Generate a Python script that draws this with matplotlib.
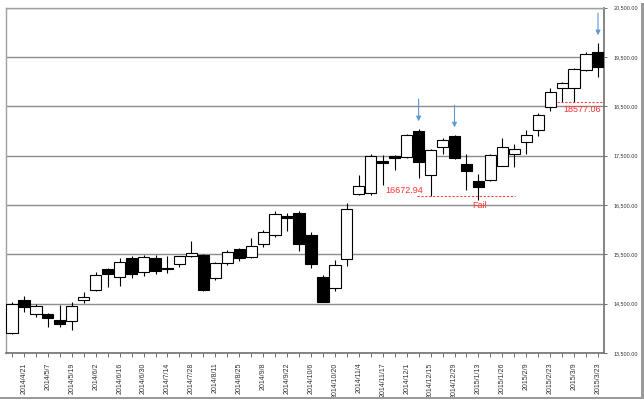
"""
weekly candle chart of the nikkei 225, 2014/4 - 2015/3, with a few notes on it.
"""
import matplotlib
matplotlib.use("Agg")
import matplotlib.pyplot as plt
from matplotlib.patches import Rectangle

plt.rcParams['font.family'] = ['Liberation Sans', 'DejaVu Sans']

# week labels (first trading day of the week)
weeks = ["2014/4/14", "2014/4/21", "2014/4/28", "2014/5/7", "2014/5/12", "2014/5/19",
         "2014/5/26", "2014/6/2", "2014/6/9", "2014/6/16", "2014/6/23", "2014/6/30",
         "2014/7/7", "2014/7/14", "2014/7/22", "2014/7/28", "2014/8/4", "2014/8/11",
         "2014/8/18", "2014/8/25", "2014/9/1", "2014/9/8", "2014/9/16", "2014/9/22",
         "2014/9/29", "2014/10/6", "2014/10/14", "2014/10/20", "2014/10/27", "2014/11/4",
         "2014/11/10", "2014/11/17", "2014/11/25", "2014/12/1", "2014/12/8", "2014/12/15",
         "2014/12/22", "2014/12/29", "2015/1/5", "2015/1/13", "2015/1/19", "2015/1/26",
         "2015/2/2", "2015/2/9", "2015/2/16", "2015/2/23", "2015/3/2", "2015/3/9",
         "2015/3/16", "2015/3/23"]

opens = [13900, 14570, 14300, 14283, 14175, 14150, 14570, 14770, 15207, 15040,
         15420, 15150, 15424, 15225, 15300, 15470, 15477, 15020, 15320, 15611,
         15444, 15713, 15895, 16280, 16334, 15885, 15040, 14816, 15404, 16725,
         16750, 17380, 17500, 17480, 18007, 17115, 17670, 17905, 17326, 16975,
         16995, 17292, 17535, 17784, 18021, 18492, 18864, 18864, 19235, 19605]
highs = [14530, 14650, 14490, 14310, 14465, 14525, 14740, 15150, 15220, 15424,
         15460, 15490, 15477, 15457, 15470, 15760, 15500, 15340, 15580, 15620,
         15830, 16000, 16367, 16334, 16374, 15960, 15090, 15376, 16537, 17110,
         17530, 17520, 17520, 17935, 18035, 17640, 17865, 17911, 17540, 17130,
         17530, 17852, 17737, 18010, 18360, 18864, 18990, 19281, 19590, 19778]
lows = [13880, 14340, 14230, 14030, 14030, 13965, 14515, 14760, 14840, 14860,
        15020, 15050, 15106, 15120, 15240, 15450, 14750, 14970, 15290, 15355,
        15424, 15650, 15860, 15980, 15560, 15220, 14529, 14750, 15270, 16700,
        16705, 16900, 17210, 17460, 17055, 16672.94, 17530, 17440, 16808, 16593,
        16990, 17280, 17278, 17535, 17900, 18405, 18577.06, 18580, 19210, 19087]
closes = [14500, 14430, 14460, 14200, 14096, 14460, 14632, 15077, 15100, 15349,
          15095, 15437, 15164, 15200, 15457, 15523, 14778, 15318, 15539, 15424,
          15668, 15948, 16321, 16229, 15708, 15300, 14532, 15291, 16414, 16880,
          17490, 17357, 17460, 17920, 17371, 17621, 17818, 17450, 17197, 16864,
          17511, 17674, 17636, 17913, 18332, 18797, 18971, 19254, 19560, 19285]

# candles that get a blue arrow on top
arrow_weeks = [34, 37, 49]


def candles(ax):
    """
    draw one candle per week, white when it closed up and black when it closed down.
    """
    for i in range(len(weeks)):
        o, h, l, c = opens[i], highs[i], lows[i], closes[i]
        # wick first so the body sits on top of it
        ax.vlines(i, l, h, color="black", lw=0.8, zorder=2)
        bottom = min(o, c)
        height = max(abs(c - o), 8)
        face = "white" if c >= o else "black"
        ax.add_patch(Rectangle((i - 0.47, bottom), 0.94, height, facecolor=face,
                               edgecolor="black", lw=0.8, zorder=3))


def notes(ax):
    """
    red dashed support lines, their numbers and the blue arrows.
    """
    ax.hlines(16672.94, 33.9, 42.1, colors="#ff4040", linestyles=(0, (2, 1.5)), lw=0.8, zorder=4)
    ax.text(34.4, 16700, "16672.94", color="#ff3030", fontsize=6.5, ha="right", va="bottom", zorder=5)
    ax.text(39.1, 16482, "Fail", color="#ff3030", fontsize=6.5, ha="center", va="center", zorder=5)

    ax.hlines(18577.06, 45.6, 49.5, colors="#ff4040", linestyles=(0, (2, 1.5)), lw=0.8, zorder=4)
    ax.text(46.1, 18530, "18577.06", color="#ff3030", fontsize=6.5, ha="left", va="top", zorder=5)

    for i in arrow_weeks:
        tip = highs[i] + 160
        ax.annotate("", xy=(i, tip), xytext=(i, tip + 450),
                    arrowprops=dict(arrowstyle="-|>", color="#5b9bd5", lw=0.8,
                                    mutation_scale=7, shrinkA=0, shrinkB=0), zorder=5)


def main():
    fig = plt.figure(figsize=(6.44, 4.01), dpi=100)
    ax = fig.add_axes([6 / 644, 1 - 353 / 401, 598 / 644, 345.5 / 401])

    candles(ax)
    notes(ax)

    ax.set_xlim(-0.5, len(weeks) - 0.5)
    ax.set_ylim(13500, 20500)

    # horizontal grid every 1000
    yt = list(range(13500, 20501, 1000))
    for y in yt:
        ax.axhline(y, color="#8c8c8c", lw=1.0, zorder=1)
    ax.yaxis.tick_right()
    ax.set_yticks(yt)
    ax.set_yticklabels(["{:,.2f}".format(y) for y in yt], fontsize=3.9, color="#333333")
    ax.tick_params(axis="y", length=2, width=0.6, pad=5, colors="#555555", labelcolor="#333333")

    # tick at every week, label every second one
    ax.set_xticks(range(len(weeks)))
    ax.set_xticklabels([w if i % 2 == 1 else "" for i, w in enumerate(weeks)],
                       rotation=90, fontsize=5, color="#333333")
    ax.tick_params(axis="x", length=3, width=0.6, pad=4, colors="#555555", labelcolor="#333333")

    for s in ["left", "top"]:
        ax.spines[s].set_color("#a0a0a0")
        ax.spines[s].set_linewidth(1.0)
    ax.spines["right"].set_color("#707070")
    ax.spines["right"].set_linewidth(1.2)
    ax.spines["bottom"].set_color("#707070")
    ax.spines["bottom"].set_linewidth(1.2)

    # shadow border of the screenshot
    fig.patches.append(Rectangle((0, 2 / 401), 641 / 644, 0.005, transform=fig.transFigure,
                                 facecolor="#9a9a9a", edgecolor="none"))
    fig.patches.append(Rectangle((641 / 644, 2 / 401), 0.004, 396 / 401, transform=fig.transFigure,
                                 facecolor="#9a9a9a", edgecolor="none"))

    fig.savefig("out.png", dpi=100)


if __name__ == '__main__':
    main()
